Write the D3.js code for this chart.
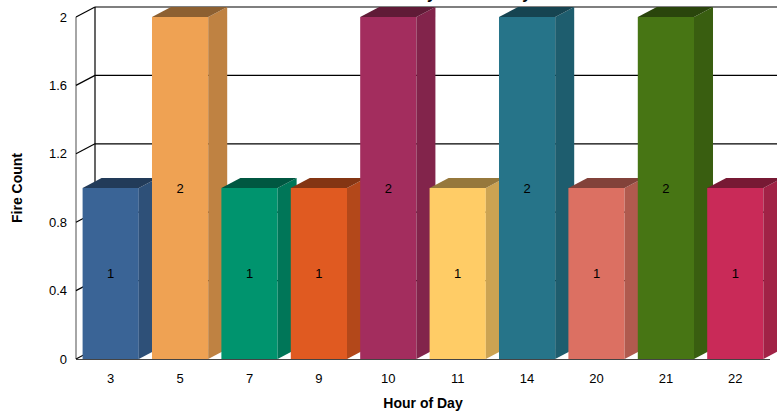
<!DOCTYPE html>
<html>
<head>
<meta charset="utf-8">
<script src="https://cdn.jsdelivr.net/npm/d3@7"></script>
<style>
  body { margin: 0; background: #fff; }
  text { font-family: Arial, "Liberation Sans", sans-serif; }
</style>
</head>
<body>
<div id="chart"></div>
<script>
// hours with fires and the counts
const hours = ["3", "5", "7", "9", "10", "11", "14", "20", "21", "22"];
const counts = [1, 2, 1, 1, 2, 1, 2, 1, 2, 1];
const barColors = ["#3a6496", "#efa253", "#00946e", "#e05a21", "#a32d5e",
                   "#ffcc66", "#267489", "#dc7062", "#477514", "#c92a58"];
const yTicks = [0, 0.4, 0.8, 1.2, 1.6, 2];

const W = 777, H = 415;
const plotL = 76, plotR = 770, plotT = 17, plotB = 359;
const dx = 19, dy = -10; // depth offset of the 3d box

const svg = d3.select("#chart").append("svg")
    .attr("width", W).attr("height", H);

const x = d3.scaleBand().domain(hours).range([plotL, plotR])
    .paddingInner(0.19).paddingOuter(0.095);
const y = d3.scaleLinear().domain([0, 2]).range([plotB, plotT]);

// title sits mostly above the visible area
svg.append("text")
    .attr("x", 432).attr("y", -1)
    .attr("text-anchor", "middle")
    .attr("font-size", 16).attr("font-weight", "bold")
    .text("Fire Count by Hour of Day");

// back wall grid lines
svg.selectAll(".grid").data(yTicks.filter(d => d > 0)).enter()
    .append("line")
    .attr("x1", plotL + dx).attr("x2", W + 20)
    .attr("y1", d => y(d) + dy).attr("y2", d => y(d) + dy)
    .attr("stroke", "#000").attr("stroke-width", 1.2);

// left wall edges
svg.append("line")
    .attr("x1", plotL + dx).attr("x2", plotL + dx)
    .attr("y1", y(2) + dy).attr("y2", y(0) + dy)
    .attr("stroke", "#000").attr("stroke-width", 1.2);
svg.append("line")
    .attr("x1", plotL).attr("x2", plotL)
    .attr("y1", y(2)).attr("y2", y(0))
    .attr("stroke", "#888").attr("stroke-width", 1.5);

// diagonal ticks on the side wall
svg.selectAll(".tick3d").data(yTicks).enter()
    .append("line")
    .attr("x1", plotL).attr("y1", d => y(d))
    .attr("x2", plotL + dx).attr("y2", d => y(d) + dy)
    .attr("stroke", "#000").attr("stroke-width", 1.2);

svg.selectAll(".ylab").data(yTicks).enter()
    .append("text")
    .attr("x", plotL - 9).attr("y", d => y(d))
    .attr("dy", "0.35em")
    .attr("text-anchor", "end")
    .attr("font-size", 13)
    .text(d => d);

// bars as boxes: front, side, top
const bars = svg.selectAll(".bar").data(hours).enter()
    .append("g").attr("class", "bar");

bars.each(function(h, i) {
    const g = d3.select(this);
    const c = d3.color(barColors[i]);
    const x0 = x(h), x1 = x(h) + x.bandwidth();
    const y0 = y(0), y1 = y(counts[i]);
    const side = d3.rgb(c.r * 0.8, c.g * 0.8, c.b * 0.8);
    const topC = d3.rgb(c.r * 0.59, c.g * 0.59, c.b * 0.59);

    g.append("rect")
        .attr("x", x0).attr("y", y1)
        .attr("width", x1 - x0).attr("height", y0 - y1)
        .attr("fill", c);
    g.append("path")
        .attr("d", `M${x1},${y1}L${x1 + dx},${y1 + dy}L${x1 + dx},${y0 + dy}L${x1},${y0}Z`)
        .attr("fill", side);
    g.append("path")
        .attr("d", `M${x0},${y1}L${x0 + dx},${y1 + dy}L${x1 + dx},${y1 + dy}L${x1},${y1}Z`)
        .attr("fill", topC);
    g.append("text")
        .attr("x", (x0 + x1) / 2).attr("y", (y0 + y1) / 2)
        .attr("dy", "0.35em")
        .attr("text-anchor", "middle")
        .attr("font-size", 13)
        .text(counts[i]);
});

// floor front edge
svg.append("line")
    .attr("x1", plotL).attr("x2", plotR)
    .attr("y1", plotB + 0.5).attr("y2", plotB + 0.5)
    .attr("stroke", "#444").attr("stroke-width", 1);

svg.selectAll(".xlab").data(hours).enter()
    .append("text")
    .attr("x", d => x(d) + x.bandwidth() / 2)
    .attr("y", plotB + 19)
    .attr("dy", "0.35em")
    .attr("text-anchor", "middle")
    .attr("font-size", 13)
    .text(d => d);

svg.append("text")
    .attr("x", 423).attr("y", 408)
    .attr("text-anchor", "middle")
    .attr("font-size", 14).attr("font-weight", "bold")
    .text("Hour of Day");

svg.append("text")
    .attr("transform", `translate(22,${(plotT + plotB) / 2}) rotate(-90)`)
    .attr("text-anchor", "middle")
    .attr("font-size", 14).attr("font-weight", "bold")
    .text("Fire Count");
</script>
</body>
</html>
